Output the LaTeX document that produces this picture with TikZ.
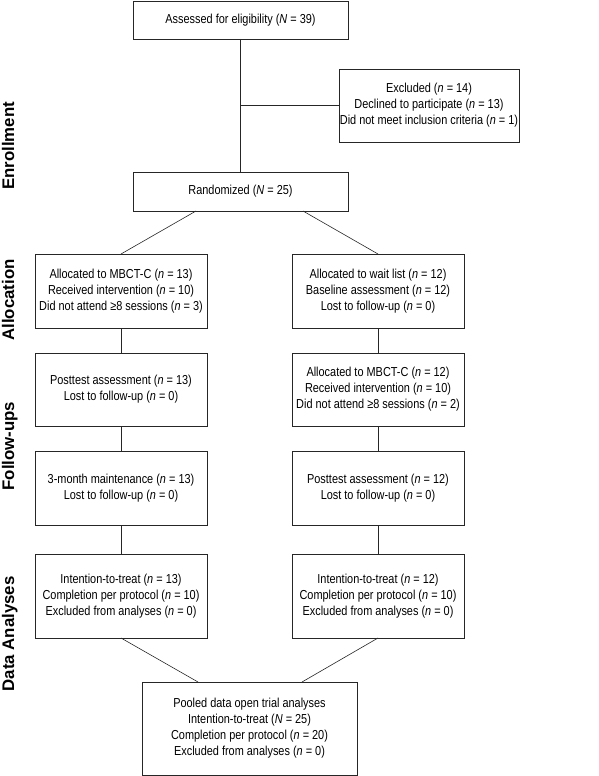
\documentclass[tikz,border=0pt]{standalone}
\usepackage{fontspec}
\setmainfont{Liberation Sans}
\newfontfamily\boxfont[FakeStretch=0.84]{Liberation Sans}
\usepackage{tikz}

\begin{document}
\begin{tikzpicture}[x=1pt, y=-1pt,
        box/.style={draw=black!85, line width=0.7pt, inner sep=0pt, outer sep=0pt, align=center, font=\boxfont\fontsize{13}{16}\selectfont},
        phase/.style={rotate=90, anchor=base, font=\fontsize{16.8}{18}\selectfont\bfseries},
        link/.style={draw=black!85, line width=0.6pt}]
            \useasboundingbox (0,0) rectangle (598,776);

            \node[box, minimum width=215pt, minimum height=38pt] (assess) at (240.5, 20) {Assessed for eligibility (\textit{N} = 39)};
            \node[box, minimum width=180pt, minimum height=73pt] (excl) at (429, 105.5) {Excluded (\textit{n} = 14)\\Declined to participate (\textit{n} = 13)\\Did not meet inclusion criteria (\textit{n} = 1)};
            \node[box, minimum width=215pt, minimum height=39pt] (rand) at (240.5, 191.5) {Randomized (\textit{N} = 25)};

            \node[box, minimum width=172pt, minimum height=74pt] (allocA) at (121, 291) {Allocated to MBCT-C (\textit{n} = 13)\\Received intervention (\textit{n} = 10)\\Did not attend ≥8 sessions (\textit{n} = 3)};
            \node[box, minimum width=172pt, minimum height=74pt] (allocB) at (378, 291) {Allocated to wait list (\textit{n} = 12)\\Baseline assessment (\textit{n} = 12)\\Lost to follow-up (\textit{n} = 0)};

            \node[box, minimum width=172pt, minimum height=73pt] (postA) at (121, 389.5) {Posttest assessment (\textit{n} = 13)\\Lost to follow-up (\textit{n} = 0)};
            \node[box, minimum width=172pt, minimum height=73pt] (mbctB) at (378, 389.5) {Allocated to MBCT-C (\textit{n} = 12)\\Received intervention (\textit{n} = 10)\\Did not attend ≥8 sessions (\textit{n} = 2)};

            \node[box, minimum width=172pt, minimum height=74pt] (maintA) at (121, 488) {3-month maintenance (\textit{n} = 13)\\Lost to follow-up (\textit{n} = 0)};
            \node[box, minimum width=172pt, minimum height=74pt] (postB) at (378, 488) {Posttest assessment (\textit{n} = 12)\\Lost to follow-up (\textit{n} = 0)};

            \node[box, minimum width=172pt, minimum height=84pt] (dataA) at (121, 596) {Intention-to-treat (\textit{n} = 13)\\Completion per protocol (\textit{n} = 10)\\Excluded from analyses (\textit{n} = 0)};
            \node[box, minimum width=172pt, minimum height=84pt] (dataB) at (378, 596) {Intention-to-treat (\textit{n} = 12)\\Completion per protocol (\textit{n} = 10)\\Excluded from analyses (\textit{n} = 0)};

            \node[box, minimum width=215pt, minimum height=93pt] (pool) at (249.5, 728.5) {Pooled data open trial analyses\\Intention-to-treat (\textit{N} = 25)\\Completion per protocol (\textit{n} = 20)\\Excluded from analyses (\textit{n} = 0)};

            \node[phase] (enroll) at (14, 146) {Enrollment};
            \node[phase] (alloc) at (14, 300) {Allocation};
            \node[phase] (follow) at (14, 446) {Follow-ups};
            \node[phase] (analyses) at (14, 634) {Data Analyses};

            \draw[link] (assess) -- (rand);
            \draw[link] (excl.west) -- (excl.west -| assess.south);
            \draw[link] ([xshift=-44.5pt]rand.south) -- (allocA.north);
            \draw[link] ([xshift=62.5pt]rand.south) -- (allocB.north);

            \draw[link] (allocA) -- (postA);
            \draw[link] (postA) -- (maintA);
            \draw[link] (maintA) -- (dataA);
            \draw[link] (allocB) -- (mbctB);
            \draw[link] (mbctB) -- (postB);
            \draw[link] (postB) -- (dataB);

            \draw[link] (dataA.south) -- ([xshift=-51.5pt]pool.north);
            \draw[link] (dataB.south) -- ([xshift=52.5pt]pool.north);
        \end{tikzpicture}
\end{document}
